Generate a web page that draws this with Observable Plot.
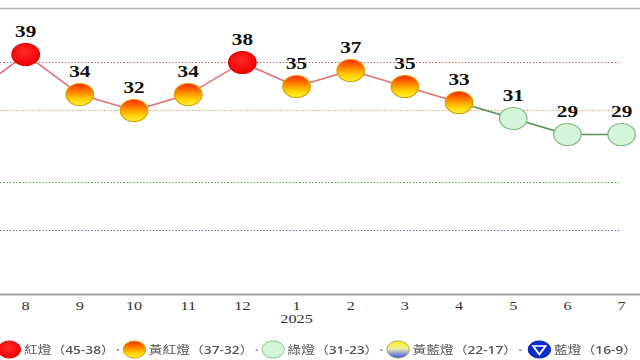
<!DOCTYPE html>
<html><head><meta charset="utf-8">
<script src="https://cdn.jsdelivr.net/npm/d3@7"></script>
<script src="https://cdn.jsdelivr.net/npm/@observablehq/plot@0.6"></script>
<style>
html,body{margin:0;padding:0;background:#fff;overflow:hidden;width:640px;height:360px;}
#wrap{width:512px;transform:scale(1.25,1);transform-origin:0 0;}
#legend{height:22px;padding-top:6px;display:flex;align-items:center;font-family:"Noto Sans CJK TC","Noto Sans",sans-serif;font-size:11px;color:#555;margin-left:-2.4px;white-space:nowrap;}
#legend .sw{display:block;flex:0 0 19px;width:19px;height:19px;margin-right:1.6px;}
#legend .sw.first{margin-right:2.5px;}
#legend .sw.last{margin-left:2px;margin-right:2px;}
#legend .sep{flex:0 0 auto;margin:0 2.5px 0 1px;color:#888;font-family:"Open Sans",sans-serif;font-weight:bold;}
#legend .lab{flex:0 0 auto;}
#legend .num{font-family:"Open Sans","Noto Sans",sans-serif;font-weight:600;color:#555;}
</style></head><body>
<svg width="0" height="0" style="position:absolute">
  <defs>
    <linearGradient id="gYR" x1="0" y1="0" x2="0" y2="1">
      <stop offset="0%" stop-color="#ff2400"/>
      <stop offset="35%" stop-color="#ff7a00"/>
      <stop offset="70%" stop-color="#ffcf00"/>
      <stop offset="100%" stop-color="#fff23a"/>
    </linearGradient>
    <linearGradient id="gYB" x1="0" y1="0" x2="0" y2="1">
      <stop offset="0%" stop-color="#fff200"/>
      <stop offset="45%" stop-color="#eeeea0"/>
      <stop offset="100%" stop-color="#3a4cff"/>
    </linearGradient>
    <radialGradient id="gR" cx="0.45" cy="0.4" r="0.6">
      <stop offset="0%" stop-color="#ff2a2a"/>
      <stop offset="100%" stop-color="#f00000"/>
    </radialGradient>
  </defs>
</svg>
<div id="wrap"><div id="chart"></div><div id="legend"></div></div>
<script>
// months from Jul 2024 to Jul 2025 (first one is cut off at the left edge)
const monthLabels = ["7","8","9","10","11","12","1","2","3","4","5","6","7"];
const yearLabels  = ["","","","","","","2025","","","","","",""];
const scores      = [34,39,34,32,34,38,35,37,35,33,31,29,29];

const lightNames  = ["紅燈","黃紅燈","綠燈","黃藍燈","藍燈"];
const lightRanges = ["45-38","37-32","31-23","22-17","16-9"];
const thresholds  = [38,32,23,17];

const lightFills   = ["url(#gR)","url(#gYR)","#d5f5d9","url(#gYB)","#0a2cd0"];
const lightStrokes = ["#e00000","#d9a000","#7cb880","#a0a060","#001c9a"];
const lineColors   = ["#e07272","#e07272","#5b8f5b","#8080c0","#4040c0"];
const threshColors = ["#c84a4a","#c89a50","#3f9040","#4a4aa8"];

const serif = "'Liberation Serif', 'Times New Roman', serif";

function lightIndex(v){ return v>=38?0 : v>=32?1 : v>=23?2 : v>=17?3 : 4; }

const rows = scores.map((s,i)=>({i, s, k: lightIndex(s)}));
const links = rows.slice(1).map(d=>({x1:d.i-1, y1:scores[d.i-1], x2:d.i, y2:d.s, k:d.k}));
const tickIdx = monthLabels.map((_,i)=>i).slice(1);

const chart = Plot.plot({
  width: 512, height: 332,
  marginLeft: 0, marginRight: 0, marginTop: 8, marginBottom: 38,
  style: {fontFamily: serif, background: "#fff"},
  x: {type: "linear", domain: [0, 12], range: [-23.3, 496.8], axis: null},
  y: {domain: [9, 45], range: [294, 6], axis: null},
  color: {type: "identity"},
  marks: [
    Plot.frame({anchor: "top", stroke: "#b3b3b3", strokeWidth: 1.5}),
    Plot.ruleY(thresholds, {y: d=>d, x1: 0, x2: 12, stroke: (d,i)=>threshColors[i], strokeDasharray: "1,1.6", strokeWidth: 1.2, clip: true}),
    Plot.ruleY([9], {stroke: "#a0a0a0", strokeWidth: 2}),
    Plot.axisX(tickIdx, {
      tickFormat: i => yearLabels[i] ? monthLabels[i] + "\n" + yearLabels[i] : monthLabels[i],
      tickSize: 0, tickPadding: 6, fontSize: 13, fontFamily: serif, fill: "#333", label: null
    }),
    Plot.link(links, {x1: "x1", y1: "y1", x2: "x2", y2: "y2", stroke: d=>lineColors[d.k], strokeWidth: 1.5, clip: true}),
    Plot.dot(rows, {x: "i", y: "s", r: 11, fill: d=>lightFills[d.k], stroke: d=>lightStrokes[d.k], strokeWidth: 1, clip: true}),
    Plot.text(rows.filter(d => d.i > 0), {x: "i", y: "s", text: d=>String(d.s), dy: -23, fontSize: 17, fontFamily: serif, fontWeight: "bold", fill: "#111"})
  ]
});
document.getElementById("chart").appendChild(chart);

// legend
function swatch(k){
  let extra = "";
  if (k === 4) extra = '<path d="M4.5,6 L14.5,6 L9.5,14.5 Z" fill="none" stroke="#fff" stroke-width="1.6"/>';
  const cls = k === 0 ? " first" : (k === lightNames.length - 1 ? " last" : "");
  return `<svg class="sw${cls}" viewBox="0 0 19 19"><ellipse cx="9.5" cy="9.5" rx="9" ry="8.6" fill="${lightFills[k]}" stroke="${lightStrokes[k]}" stroke-width="0.8"/>${extra}</svg>`;
}
const leg = document.getElementById("legend");
leg.innerHTML = lightNames.map((n,k)=>
  `${k>0?'<span class="sep">·</span>':''}${swatch(k)}<span class="lab">${n}（<span class="num">${lightRanges[k]}</span>）</span>`
).join("");
</script>
</body></html>
